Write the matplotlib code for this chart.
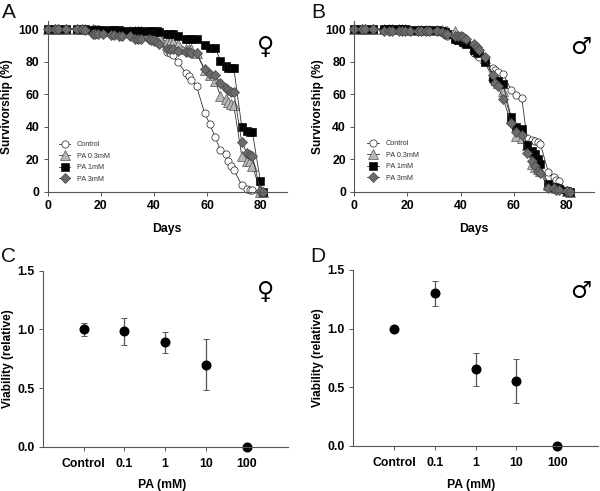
import matplotlib
matplotlib.use("Agg")
import matplotlib.pyplot as plt

plt.rcParams['font.family'] = ['Liberation Sans', 'DejaVu Sans']

W, H = 600, 491

days = [0, 3, 4, 7, 11, 13, 14, 17, 18, 19,
        21, 24, 25, 27, 28, 31, 33, 34, 35, 38,
        39, 40, 41, 42, 45, 46, 47, 49, 52, 53,
        54, 56, 59, 61, 63, 65, 67, 68, 69, 70,
        73, 75, 76, 77, 80, 81]

a_control = [100, 100, 100, 100, 100, 100, 100, 100, 100, 100,
             99.5, 99.5, 99, 99, 99, 99, 99, 98.5, 98.5, 98,
             97.5, 97, 95, 93, 86, 85, 84, 79.5, 73, 71,
             68.5, 65, 48.5, 41.5, 33.5, 25.5, 23, 19, 15.5, 13.5,
             4, 1.5, 1.3, 1, 0, 0]
a_pa03 = [100, 100, 100, 100, 100, 100, 100, 100, 99.5, 99.5,
          99, 99, 99, 99, 99, 99, 98.5, 98.5, 98.5, 98,
          97.5, 97, 96, 95, 92, 92, 92, 91, 88, 88,
          88, 85, 75, 72, 68, 59, 57, 55, 54, 53,
          22, 19, 19, 16, 0, 0]
a_pa1 = [100, 100, 100, 100, 100, 100, 100, 99.5, 99.5, 99.5,
         99.5, 99.5, 99.5, 99.5, 99, 99, 99, 99, 99, 99,
         99, 99, 98.5, 98, 97, 97, 97, 95.5, 94, 94,
         94, 94, 90, 88.5, 88.5, 80.5, 77, 76, 76, 76,
         40, 37.5, 37, 36.5, 6.5, 0]
a_pa3 = [100, 100, 100, 100, 100, 100, 99.5, 97, 97, 97,
         97, 96.5, 96.5, 96, 96, 95.5, 94, 94, 94, 94,
         93, 92.5, 92, 91, 88, 88, 87.5, 86.5, 86, 86,
         85.5, 85.5, 75.5, 72.5, 71.5, 67, 64, 62.5, 61.5, 61.5,
         30.5, 23.5, 22.5, 22, 0.5, 0]

b_control = [100, 100, 100, 100, 100, 100, 100, 100, 100, 100,
             99.5, 99.5, 99.5, 99.5, 99, 99, 99, 97.5, 96, 93,
             93, 92, 91.5, 91, 85, 84, 83, 81, 76, 75,
             73.5, 72.5, 62.5, 59.5, 57.5, 33, 32, 31, 30.5, 29.5,
             12, 9, 7.5, 6.5, 1, 0]
b_pa03 = [100, 100, 100, 100, 100, 100, 100, 100, 100, 100,
          99.5, 99.5, 99.5, 99.5, 99.5, 99.5, 99.5, 99, 99, 99,
          96, 95, 94, 92, 89, 88, 87, 82, 72, 70,
          67, 62, 45, 34, 33, 29, 17, 15, 14, 13,
          4, 3, 2, 2, 0.5, 0]
b_pa1 = [100, 100, 100, 100, 100, 100, 100, 100, 100, 100,
         99.5, 99.5, 99.5, 99.5, 99.5, 99.5, 99, 98, 97, 94,
         93.5, 93, 92, 91, 87, 86, 85, 80, 70, 68,
         68, 66, 46, 40, 38.5, 28.5, 25, 23, 20, 17,
         4.5, 3, 2.5, 1.5, 0.5, 0]
b_pa3 = [100, 100, 100, 100, 99, 98.5, 98.5, 99, 99, 99,
         98.5, 98.5, 98.5, 98.5, 98.5, 98.5, 98, 97, 97, 96,
         96, 96, 95, 94, 91, 89, 87, 83, 71.5, 67,
         65, 57, 42.5, 36.5, 35, 23.5, 19, 15.5, 13, 11.5,
         2.5, 2, 1, 1, 0.5, 0]

series_labels = ['Control', 'PA 0.3mM', 'PA 1mM', 'PA 3mM']
series_markers = ['o', '^', 's', 'D']
series_faces = ['white', '#b8b8b8', 'black', '#6c6c6c']
series_edges = ['#222222', '#555555', '#111111', '#444444']
series_sizes = [5.2, 6.6, 5.6, 5.2]

dose_labels = ['Control', '0.1', '1', '10', '100']
c_viability = [1.0, 0.985, 0.89, 0.70, 0.0]
c_err = [0.055, 0.115, 0.088, 0.22, 0.0]
d_viability = [1.0, 1.30, 0.655, 0.555, 0.0]
d_err = [0.0, 0.105, 0.14, 0.185, 0.0]

fig = plt.figure(figsize=(W / 100, H / 100), dpi=100)


def axes_px(left, right, top, bottom):
    return fig.add_axes([left / W, 1 - bottom / H, (right - left) / W, (bottom - top) / H])


def style(ax):
    for s in ('top', 'right'):
        ax.spines[s].set_visible(False)
    for s in ('left', 'bottom'):
        ax.spines[s].set_linewidth(0.8)
        ax.spines[s].set_color('#555555')
    ax.tick_params(length=3, width=0.7, color='#555555', labelsize=8.8, pad=3)
    for t in ax.get_xticklabels() + ax.get_yticklabels():
        t.set_fontweight('bold')


def survival(ax, values, ylab_x, legend_anchor):
    for v, m, f, e, s, lab in zip(values, series_markers, series_faces, series_edges,
                                  series_sizes, series_labels):
        ax.plot(days, v, color='#333333', lw=0.6, marker=m, mfc=f, mec=e,
                mew=0.5, ms=s, clip_on=False, label=lab)
    ax.set_xlim(0, 90)
    ax.set_ylim(0, 105)
    ax.set_xticks(range(0, 81, 20))
    ax.set_yticks(range(0, 101, 20))
    style(ax)
    ax.set_xlabel('Days', fontsize=8.8, fontweight='bold')
    ax.xaxis.set_label_coords(0.5, -0.183)
    ax.set_ylabel('Survivorship (%)', fontsize=8.6, fontweight='bold')
    ax.yaxis.set_label_coords(ylab_x, 0.5)
    ax.legend(loc='center left', bbox_to_anchor=legend_anchor, frameon=False, fontsize=5.2,
              labelspacing=0.62, handletextpad=0.9, handlelength=1.6, borderpad=0,
              labelcolor='#333333')


def viability(ax, vals, errs, ylab_x, xlab_x):
    x = list(range(1, len(vals) + 1))
    ax.errorbar(x, vals, yerr=errs, fmt='none', ecolor='#555555', elinewidth=0.9,
                capsize=2.2, capthick=0.7, clip_on=False)
    ax.plot(x, vals, 'o', color='black', ms=6.2, clip_on=False, ls='none')
    ax.set_xlim(0, 6)
    ax.set_ylim(0, 1.5)
    ax.set_xticks(x)
    ax.set_xticklabels(dose_labels)
    ax.set_yticks([0, 0.5, 1.0, 1.5])
    ax.set_yticklabels(['0.0', '0.5', '1.0', '1.5'])
    style(ax)
    ax.tick_params(axis='x', pad=5)
    ax.set_xlabel('PA (mM)', fontsize=8.8, fontweight='bold')
    ax.xaxis.set_label_coords(xlab_x, -0.185)
    ax.set_ylabel('Viability (relative)', fontsize=8.6, fontweight='bold')
    ax.yaxis.set_label_coords(ylab_x, 0.5)


ax_a = axes_px(47.5, 287, 20.9, 191.7)
ax_b = axes_px(354.3, 593.5, 20.9, 191.7)
ax_c = axes_px(42.7, 287.6, 270.7, 446.7)
ax_d = axes_px(353.3, 598, 270, 446)

survival(ax_a, [a_control, a_pa03, a_pa1, a_pa3], -0.145, (0.032, 0.174))
survival(ax_b, [b_control, b_pa03, b_pa1, b_pa3], -0.125, (0.04, 0.18))
viability(ax_c, c_viability, c_err, -0.118, 0.486)
viability(ax_d, d_viability, d_err, -0.118, 0.48)


def px_text(x, y, s, **kw):
    fig.text(x / W, 1 - y / H, s, ha='center', va='center', **kw)


for x, y, s in [(9, 12, 'A'), (318, 12, 'B'), (8, 257, 'C'), (318, 257, 'D')]:
    px_text(x, y, s, fontsize=15, color='#111111')

for x, y, s in [(265.5, 47, '♀'), (265.5, 292, '♀'), (581, 47, '♂'), (581, 291, '♂')]:
    px_text(x, y, s, fontsize=17, color='black', family='DejaVu Sans', fontweight='bold')

fig.savefig('out.png', dpi=100)
